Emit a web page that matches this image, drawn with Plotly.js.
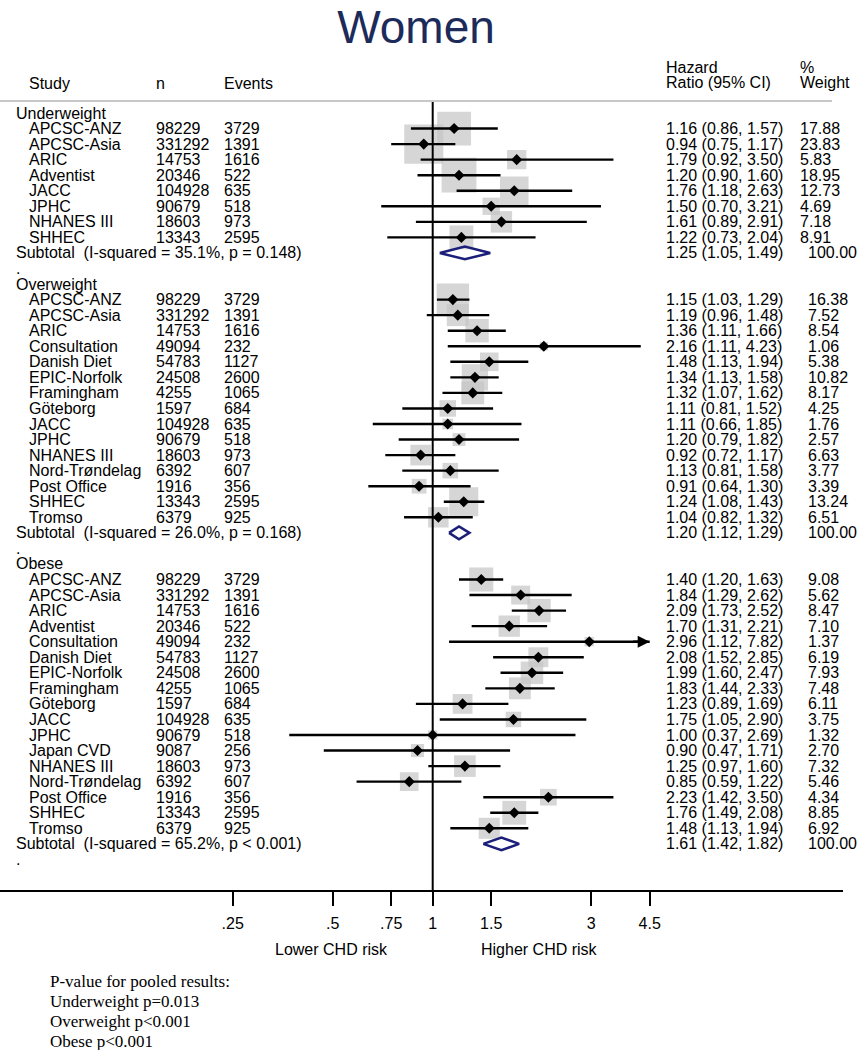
<!DOCTYPE html>
<html><head><meta charset="utf-8">
<script src="https://cdn.plot.ly/plotly-3.0.1.min.js"></script>
<style>html,body{margin:0;padding:0;background:#fff}</style>
</head><body><div id="chart" style="width:857px;height:1050px"></div>
<script>
// ---------------- DATA ----------------
const groupNames = ['Underweight', 'Overweight', 'Obese'];

const uwStudy  = ['APCSC-ANZ','APCSC-Asia','ARIC','Adventist','JACC','JPHC','NHANES III','SHHEC'];
const uwN      = [98229, 331292, 14753, 20346, 104928, 90679, 18603, 13343];
const uwEvents = [3729, 1391, 1616, 522, 635, 518, 973, 2595];
const uwHR     = [1.16, 0.94, 1.79, 1.20, 1.76, 1.50, 1.61, 1.22];
const uwLo     = [0.86, 0.75, 0.92, 0.90, 1.18, 0.70, 0.89, 0.73];
const uwHi     = [1.57, 1.17, 3.50, 1.60, 2.63, 3.21, 2.91, 2.04];
const uwW      = [17.88, 23.83, 5.83, 18.95, 12.73, 4.69, 7.18, 8.91];

const owStudy  = ['APCSC-ANZ','APCSC-Asia','ARIC','Consultation','Danish Diet','EPIC-Norfolk','Framingham','Göteborg','JACC','JPHC','NHANES III','Nord-Trøndelag','Post Office','SHHEC','Tromso'];
const owN      = [98229, 331292, 14753, 49094, 54783, 24508, 4255, 1597, 104928, 90679, 18603, 6392, 1916, 13343, 6379];
const owEvents = [3729, 1391, 1616, 232, 1127, 2600, 1065, 684, 635, 518, 973, 607, 356, 2595, 925];
const owHR     = [1.15, 1.19, 1.36, 2.16, 1.48, 1.34, 1.32, 1.11, 1.11, 1.20, 0.92, 1.13, 0.91, 1.24, 1.04];
const owLo     = [1.03, 0.96, 1.11, 1.11, 1.13, 1.13, 1.07, 0.81, 0.66, 0.79, 0.72, 0.81, 0.64, 1.08, 0.82];
const owHi     = [1.29, 1.48, 1.66, 4.23, 1.94, 1.58, 1.62, 1.52, 1.85, 1.82, 1.17, 1.58, 1.30, 1.43, 1.32];
const owW      = [16.38, 7.52, 8.54, 1.06, 5.38, 10.82, 8.17, 4.25, 1.76, 2.57, 6.63, 3.77, 3.39, 13.24, 6.51];

const obStudy  = ['APCSC-ANZ','APCSC-Asia','ARIC','Adventist','Consultation','Danish Diet','EPIC-Norfolk','Framingham','Göteborg','JACC','JPHC','Japan CVD','NHANES III','Nord-Trøndelag','Post Office','SHHEC','Tromso'];
const obN      = [98229, 331292, 14753, 20346, 49094, 54783, 24508, 4255, 1597, 104928, 90679, 9087, 18603, 6392, 1916, 13343, 6379];
const obEvents = [3729, 1391, 1616, 522, 232, 1127, 2600, 1065, 684, 635, 518, 256, 973, 607, 356, 2595, 925];
const obHR     = [1.40, 1.84, 2.09, 1.70, 2.96, 2.08, 1.99, 1.83, 1.23, 1.75, 1.00, 0.90, 1.25, 0.85, 2.23, 1.76, 1.48];
const obLo     = [1.20, 1.29, 1.73, 1.31, 1.12, 1.52, 1.60, 1.44, 0.89, 1.05, 0.37, 0.47, 0.97, 0.59, 1.42, 1.49, 1.13];
const obHi     = [1.63, 2.62, 2.52, 2.21, 7.82, 2.85, 2.47, 2.33, 1.69, 2.90, 2.69, 1.71, 1.60, 1.22, 3.50, 2.08, 1.94];
const obW      = [9.08, 5.62, 8.47, 7.10, 1.37, 6.19, 7.93, 7.48, 6.11, 3.75, 1.32, 2.70, 7.32, 5.46, 4.34, 8.85, 6.92];

const subLabel = ['Subtotal  (I-squared = 35.1%, p = 0.148)', 'Subtotal  (I-squared = 26.0%, p = 0.168)', 'Subtotal  (I-squared = 65.2%, p < 0.001)'];
const subHR    = [1.25, 1.20, 1.61];
const subLo    = [1.05, 1.12, 1.42];
const subHi    = [1.49, 1.29, 1.82];
const subW     = [100.00, 100.00, 100.00];

const tickVals = [0.25, 0.5, 0.75, 1, 1.5, 3, 4.5];
const tickText = ['.25', '.5', '.75', '1', '1.5', '3', '4.5'];
const riskLabels = ['Lower CHD risk', 'Higher CHD risk'];
const pvalLines = ['P-value for pooled results:', 'Underweight p=0.013', 'Overweight p<0.001', 'Obese p<0.001'];

// ---------------- LAYOUT CONSTANTS ----------------
const W = 857, H = 1050;
const ROW0 = 113, ROWH = 15.55, AXIS_Y = 890, HEADER_LINE_Y = 101;
const X1PX = 432.7, PX_PER_DOUBLING = 100, AXIS_END = 843;
const SANS = 'Liberation Sans, Arial, sans-serif';
const SERIF = 'Liberation Serif, Times New Roman, serif';
const BOX = '#c4c4c4', NAVY = '#1b1f7a';
const NB = s => s.replace(/ /g, '\u00a0');

const log2px = px => (px - X1PX) / PX_PER_DOUBLING * Math.log10(2);
const xRange = [log2px(0), log2px(AXIS_END)];
const clipLo = tickVals[0], clipHi = tickVals[tickVals.length - 1];
const yRange = [(AXIS_Y - ROW0) / ROWH, -ROW0 / ROWH];
const px2row = py => (py - ROW0) / ROWH;

const groups = [
  {study: uwStudy, n: uwN, ev: uwEvents, hr: uwHR, lo: uwLo, hi: uwHi, w: uwW, wx: 799},
  {study: owStudy, n: owN, ev: owEvents, hr: owHR, lo: owLo, hi: owHi, w: owW, wx: 807},
  {study: obStudy, n: obN, ev: obEvents, hr: obHR, lo: obLo, hi: obHi, w: obW, wx: 807}
];

const ann = [];
function txt(text, px, row, opts) {
  ann.push(Object.assign({
    text: NB(text), xref: 'paper', yref: 'y', x: px / W, y: row,
    xanchor: 'left', yanchor: 'middle', showarrow: false, borderpad: 0,
    font: {family: SANS, size: 16, color: '#000'}
  }, opts || {}));
}
const fmtCI = (h, l, u) => `${h.toFixed(2)} (${l.toFixed(2)}, ${u.toFixed(2)})`;

const boxX = [], boxY = [], boxS = [];
const ptX = [], ptY = [];
const ciX = [], ciY = [];
const dmX = [], dmY = [];
const arrows = [];

let r = 0;
groups.forEach((g, gi) => {
  txt(groupNames[gi], 15, r);
  r++;
  g.study.forEach((s, i) => {
    txt(s, 28, r);
    txt(String(g.n[i]), 155, r);
    txt(String(g.ev[i]), 223, r);
    txt(fmtCI(g.hr[i], g.lo[i], g.hi[i]), 665, r);
    txt(g.w[i].toFixed(2), g.wx, r);
    boxX.push(g.hr[i]); boxY.push(r); boxS.push(8 * Math.sqrt(g.w[i]));
    ptX.push(g.hr[i]); ptY.push(r);
    const lo = Math.max(g.lo[i], clipLo), hi = Math.min(g.hi[i], clipHi);
    ciX.push(lo, hi, null); ciY.push(r, r, null);
    if (g.hi[i] > clipHi) arrows.push({x: Math.log10(clipHi), y: r});
    r++;
  });
  txt(subLabel[gi], 15, r);
  txt(fmtCI(subHR[gi], subLo[gi], subHi[gi]), 665, r);
  txt(subW[gi].toFixed(2), 807, r);
  const h = 0.41;
  dmX.push(subLo[gi], subHR[gi], subHi[gi], subHR[gi], subLo[gi], null);
  dmY.push(r, r - h, r, r + h, r, null);
  r++;
  txt('.', 15, r);
  r++;
});

// headers
txt('Study', 28, px2row(83));
txt('n', 155, px2row(83));
txt('Events', 223, px2row(83));
txt('Hazard', 665, px2row(67));
txt('Ratio (95% CI)', 665, px2row(82));
txt('%', 799, px2row(67));
txt('Weight', 799, px2row(82));

// arrows for clipped CIs
arrows.forEach(a => ann.push({
  xref: 'x', yref: 'y', x: a.x, y: a.y, ax: -18, ay: 0, text: '',
  showarrow: true, arrowhead: 2, arrowsize: 1, arrowwidth: 2.4, arrowcolor: '#000', standoff: 0
}));

// bottom labels
ann.push({text: riskLabels[0], xref: 'paper', yref: 'paper', x: 331 / W, y: 1 - 949 / H,
  xanchor: 'center', yanchor: 'middle', showarrow: false, font: {family: SANS, size: 16, color: '#000'}});
ann.push({text: riskLabels[1], xref: 'paper', yref: 'paper', x: 539 / W, y: 1 - 949 / H,
  xanchor: 'center', yanchor: 'middle', showarrow: false, font: {family: SANS, size: 16, color: '#000'}});
pvalLines.forEach((t, i) => ann.push({text: t, xref: 'paper', yref: 'paper', x: 49 / W, y: 1 - (981 + 20 * i) / H,
  xanchor: 'left', yanchor: 'middle', showarrow: false, borderpad: 0, font: {family: SERIF, size: 17, color: '#000'}}));

const traces = [
  {type: 'scatter', mode: 'markers', x: boxX, y: boxY, hoverinfo: 'skip',
   marker: {symbol: 'square', size: boxS, color: BOX, line: {width: 0}}},
  {type: 'scatter', mode: 'lines', x: [1, 1], y: [px2row(HEADER_LINE_Y), yRange[0]], hoverinfo: 'skip',
   line: {color: '#000', width: 2}},
  {type: 'scatter', mode: 'lines', x: ciX, y: ciY, hoverinfo: 'skip', connectgaps: false,
   line: {color: '#000', width: 2.4}},
  {type: 'scatter', mode: 'markers', x: ptX, y: ptY, hoverinfo: 'skip',
   marker: {symbol: 'diamond', size: 8.5, color: '#000', line: {width: 0}}},
  {type: 'scatter', mode: 'lines', x: dmX, y: dmY, hoverinfo: 'skip', connectgaps: false,
   line: {color: NAVY, width: 2.5}}
];

const layout = {
  width: W, height: H, margin: {l: 0, r: 0, t: 0, b: 0},
  paper_bgcolor: '#fff', plot_bgcolor: 'rgba(0,0,0,0)', showlegend: false,
  title: {text: 'Women', font: {family: SANS, size: 46, color: '#1c2b5a'},
          x: 416 / W, xanchor: 'center', xref: 'container', y: 1 - 27 / H, yanchor: 'middle', yref: 'container'},
  xaxis: {type: 'log', range: xRange, domain: [0, AXIS_END / W], showgrid: false, zeroline: false,
          showline: true, linecolor: '#000', linewidth: 2,
          ticks: 'outside', ticklen: 14, tickwidth: 2, tickcolor: '#000',
          tickvals: tickVals, ticktext: tickText, ticklabelstandoff: 4,
          tickfont: {family: SANS, size: 16, color: '#000'}, fixedrange: true},
  yaxis: {range: yRange, domain: [1 - AXIS_Y / H, 1], visible: false, fixedrange: true},
  shapes: [{type: 'line', xref: 'paper', yref: 'paper', x0: 0, x1: 832 / W,
            y0: 1 - HEADER_LINE_Y / H, y1: 1 - HEADER_LINE_Y / H, line: {color: '#c8c8c8', width: 2}}],
  annotations: ann
};

Plotly.newPlot('chart', traces, layout, {staticPlot: true, displayModeBar: false});
</script></body></html>
